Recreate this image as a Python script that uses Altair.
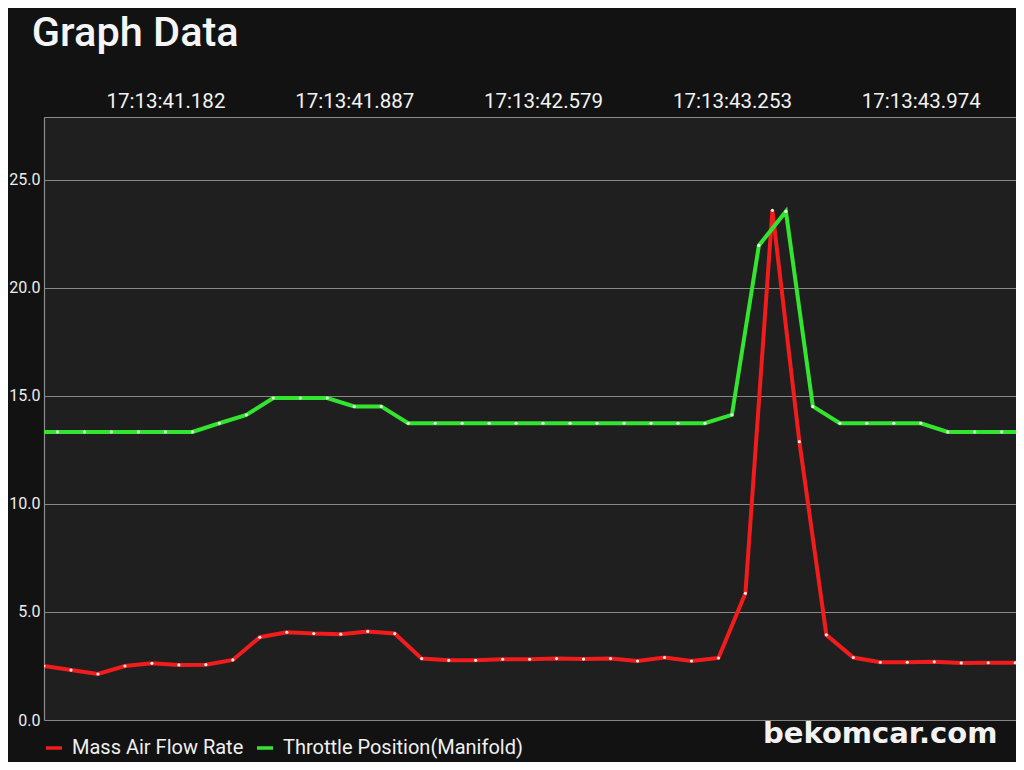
import json
import altair as alt
import pandas as pd

# ---------------- data ----------------
time_labels = ["17:13:41.182", "17:13:41.887", "17:13:42.579", "17:13:43.253", "17:13:43.974"]
label_steps = [9, 23, 37, 51, 65]          # merged sample index carrying each time label

series_names = ["Mass Air Flow Rate", "Throttle Position(Manifold)"]
series_colors = ["#f31c1c", "#33e52e"]

# Mass Air Flow Rate samples (even merged steps 0, 2, 4, ...)
maf_values = [2.50, 2.31, 2.13, 2.50, 2.62, 2.55, 2.56, 2.78, 3.83, 4.06,
              4.00, 3.97, 4.10, 4.00, 2.84, 2.76, 2.76, 2.81, 2.81, 2.84,
              2.82, 2.84, 2.73, 2.89, 2.73, 2.87, 5.86, 23.58, 12.88, 3.94,
              2.89, 2.67, 2.67, 2.69, 2.64, 2.65, 2.65, 2.65]

# Throttle Position samples (odd merged steps -1, 1, 3, ...)
tps_values = [13.33, 13.33, 13.33, 13.33, 13.33, 13.33, 13.33, 13.73, 14.12, 14.90,
              14.90, 14.90, 14.51, 14.51, 13.73, 13.73, 13.73, 13.73, 13.73, 13.73,
              13.73, 13.73, 13.73, 13.73, 13.73, 13.73, 14.12, 21.96, 23.53, 14.51,
              13.73, 13.73, 13.73, 13.73, 13.33, 13.33, 13.33, 13.33]

y_ticks = [0, 5, 10, 15, 20, 25]
watermark = ["bekomcar.com"]

rows = []
for i, v in enumerate(maf_values):
    rows.append({"step": 2 * i, "value": v, "series": series_names[0]})
for i, v in enumerate(tps_values):
    rows.append({"step": 2 * i - 1, "value": v, "series": series_names[1]})
df = pd.DataFrame(rows)

label_expr = f"{json.dumps(time_labels)}[indexof({json.dumps(label_steps)}, datum.value)]"

x_enc = alt.X(
    "step:Q",
    scale=alt.Scale(domain=[0, 72.06], nice=False, zero=False),
    axis=alt.Axis(
        orient="top", values=label_steps, labelExpr=label_expr, title=None,
        grid=False, ticks=False, tickSize=0, domain=True, domainColor="#8c8c8c",
        domainWidth=1.2, labelPadding=10, labelBaseline="alphabetic",
        labelFontSize=20.5, labelColor="#f2f2f2", labelFont="Roboto",
    ),
)
y_enc = alt.Y(
    "value:Q",
    scale=alt.Scale(domain=[0, 27.9], nice=False, zero=True),
    axis=alt.Axis(
        values=y_ticks, format=".1f", title=None, ticks=False, tickSize=0,
        domain=True, domainColor="#8c8c8c", domainWidth=1.2,
        grid=True, gridColor="#9a9a9a", gridWidth=1, gridOpacity=0.85,
        labelPadding=4, labelAlign="right", labelBaseline="middle",
        labelFontSize=16, labelColor="#eeeeee", labelFont="Roboto",
    ),
)

color_enc = alt.Color(
    "series:N",
    scale=alt.Scale(domain=series_names, range=series_colors),
    legend=alt.Legend(
        title=None, orient="none", legendX=0, legendY=621, direction="horizontal",
        symbolType="stroke", symbolSize=256, symbolStrokeWidth=3.5,
        labelFontSize=20, labelColor="#f0f0f0", labelFont="Roboto", labelLimit=0,
        columnPadding=6, labelOffset=8, padding=0,
    ),
)

base = alt.Chart(df)

lines = base.mark_line(strokeWidth=4, clip=True).encode(
    x=x_enc, y=y_enc, color=color_enc, detail="series:N"
)
points = base.mark_point(filled=True, size=10, color="#ffffff", opacity=0.9, clip=True).encode(
    x="step:Q", y="value:Q"
)
mark_text = alt.Chart(pd.DataFrame({"txt": watermark})).mark_text(
    font="DejaVu Sans", fontWeight="bold", fontSize=29, color="#f2f2f2",
    align="left", baseline="alphabetic",
).encode(text="txt:N", x=alt.value(719), y=alt.value(626))

chart = alt.layer(lines, points, mark_text).properties(
    width=972,
    height=603,
    padding={"left": 36, "top": 109, "right": 0, "bottom": 42},
    autosize=alt.AutoSizeParams(type="none"),
    background="#121212",
    title=alt.TitleParams(
        "Graph Data", anchor="start", fontSize=41.5, fontWeight=500, color="#f5f5f5",
        font="Roboto", dx=23, offset=4, baseline="alphabetic",
    ),
).configure_view(
    fill="#1f1f1f", stroke=None
)

chart.save("out.html", embed_options={"renderer": "svg", "actions": False})
